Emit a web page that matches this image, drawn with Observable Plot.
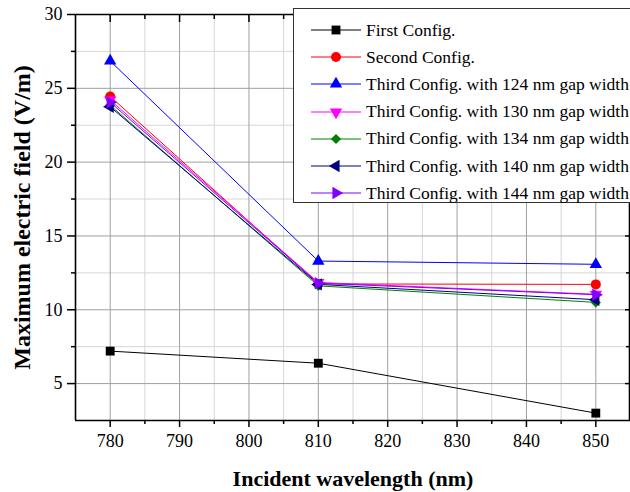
<!DOCTYPE html>
<html>
<head>
<meta charset="utf-8">
<script src="https://cdn.jsdelivr.net/npm/d3@7"></script>
<script src="https://cdn.jsdelivr.net/npm/@observablehq/plot@0.6"></script>
<style>
  html, body { margin: 0; padding: 0; background: #fff; overflow: hidden; }
  #wrap { position: relative; width: 630px; height: 492px; overflow: hidden; font-family: "Liberation Serif", "Times New Roman", serif; }
  #wrap svg text { font-family: "Liberation Serif", "Times New Roman", serif; }
  #legend { position: absolute; left: 293px; top: 8px; width: 400px; height: 195px; background: #fff; border: 1.3px solid #333; box-sizing: border-box; }
  .row { position: absolute; left: 17px; height: 20px; display: flex; align-items: center; white-space: nowrap; font-size: 17.5px; color: #000; }
  .row svg { width: 52px; height: 20px; margin-right: 3px; overflow: visible; }
</style>
</head>
<body>
<div id="wrap"></div>
<script>
// ---- data ----
const wavelengths = [780, 810, 850];
const seriesNames = [
  "First Config.",
  "Second Config.",
  "Third Config. with 124 nm gap width",
  "Third Config. with 130 nm gap width",
  "Third Config. with 134 nm gap width",
  "Third Config. with 140 nm gap width",
  "Third Config. with 144 nm gap width"
];
const firstConfig  = [7.2, 6.38, 3.0];
const secondConfig = [24.45, 11.75, 11.72];
const third124     = [26.85, 13.3, 13.08];
const third130     = [24.2, 11.85, 11.05];
const third134     = [23.85, 11.62, 10.5];
const third140     = [23.75, 11.72, 10.68];
const third144     = [24.05, 11.8, 11.02];
const seriesValues = [firstConfig, secondConfig, third124, third130, third134, third140, third144];

const xDomain = [775, 855];
const yDomain = [2.5, 30];
const xMajorTicks = [780, 790, 800, 810, 820, 830, 840, 850];
const xMinorTicks = [785, 795, 805, 815, 825, 835, 845];
const yMajorTicks = [5, 10, 15, 20, 25, 30];
const yMinorTicks = [7.5, 12.5, 17.5, 22.5, 27.5];
const xLabel = "Incident wavelength (nm)";
const yLabel = "Maximum electric field (V/m)";

// ---- styles ----
const colors = ["#000000", "#ff0000", "#0000ff", "#ff00ff", "#008000", "#000080", "#8000ff"];
const symbols = ["square", "circle", "triangle", "triangle", "diamond2", "triangle", "triangle"];
const rotations = [0, 0, 0, 180, 0, -90, 90];
const radii = [5, 5, 4.6, 4.6, 4.6, 4.6, 4.6];

const rows = [];
seriesValues.forEach((vals, s) => vals.forEach((v, i) => rows.push({series: s, x: wavelengths[i], y: v})));

const font = "'Liberation Serif', 'Times New Roman', serif";

const marks = [
  // grid
  Plot.ruleX(xMinorTicks.concat([xDomain[1]]), {stroke: "#d6d6d6", strokeWidth: 1}),
  Plot.ruleY(yMinorTicks, {stroke: "#d6d6d6", strokeWidth: 1}),
  Plot.ruleX(xMajorTicks, {stroke: "#a0a0a0", strokeWidth: 1}),
  Plot.ruleY(yMajorTicks, {stroke: "#a0a0a0", strokeWidth: 1}),
];

seriesValues.forEach((vals, s) => {
  const data = rows.filter(d => d.series === s);
  marks.push(Plot.line(data, {x: "x", y: "y", stroke: colors[s], strokeWidth: 1}));
});
seriesValues.forEach((vals, s) => {
  const data = rows.filter(d => d.series === s);
  marks.push(Plot.dot(data, {x: "x", y: "y", symbol: () => symbols[s], fill: colors[s], stroke: "none", r: radii[s], rotate: rotations[s]}));
});

const ax = {label: null, strokeWidth: 1.5, fontFamily: font};
marks.push(
  // frame
  Plot.ruleY([yDomain[0]], {stroke: "#000", strokeWidth: 1.6}),
  Plot.ruleY([yDomain[1]], {stroke: "#000", strokeWidth: 1.6}),
  Plot.ruleX([xDomain[0]], {stroke: "#000", strokeWidth: 1.6}),
  Plot.ruleX([xDomain[1]], {stroke: "#000", strokeWidth: 1.6, dx: -1}),
  // bottom axis
  Plot.axisX(xMajorTicks, {...ax, anchor: "bottom", tickSize: 7, tickPadding: 7, fontSize: 18, tickFormat: d => String(d)}),
  Plot.axisX(xMinorTicks, {...ax, anchor: "bottom", tickSize: 4, tickFormat: () => ""}),
  // top axis (inward)
  Plot.axisX(xMajorTicks, {...ax, anchor: "top", tickSize: -7, tickFormat: () => ""}),
  Plot.axisX(xMinorTicks, {...ax, anchor: "top", tickSize: -4, tickFormat: () => ""}),
  // left axis
  Plot.axisY(yMajorTicks, {...ax, anchor: "left", tickSize: 8, tickPadding: 5, fontSize: 18, tickFormat: d => String(d)}),
  Plot.axisY(yMinorTicks, {...ax, anchor: "left", tickSize: 4, tickFormat: () => ""}),
  // right axis (inward)
  Plot.axisY(yMajorTicks, {...ax, anchor: "right", tickSize: -5, tickFormat: () => "", dx: -1}),
  Plot.axisY(yMinorTicks, {...ax, anchor: "right", tickSize: -4, tickFormat: () => "", dx: -1}),
  // titles
  Plot.text([xLabel], {frameAnchor: "bottom", lineAnchor: "middle", textAnchor: "middle", dy: 58, fontSize: 22, fontWeight: "bold", fill: "#000", fontFamily: font}),
  Plot.text([yLabel], {frameAnchor: "left", lineAnchor: "middle", textAnchor: "middle", dx: -53, rotate: -90, fontSize: 24, fontWeight: "bold", fill: "#000", fontFamily: font})
);

const chart = Plot.plot({
  width: 630,
  height: 492,
  marginLeft: 75,
  marginRight: 0,
  marginTop: 14,
  marginBottom: 72,
  style: {fontFamily: font, background: "#fff", color: "#000", overflow: "visible"},
  x: {domain: xDomain, axis: null},
  y: {domain: yDomain, axis: null},
  marks
});

const wrap = document.getElementById("wrap");
wrap.appendChild(chart);

// ---- legend ----
const legend = document.createElement("div");
legend.id = "legend";
wrap.appendChild(legend);
const symMap = {square: d3.symbolSquare, circle: d3.symbolCircle, triangle: d3.symbolTriangle, diamond2: d3.symbolDiamond2};
seriesNames.forEach((name, s) => {
  const row = document.createElement("div");
  row.className = "row";
  row.style.top = (11 + s * 27.2) + "px";
  const path = d3.symbol(symMap[symbols[s]], Math.PI * radii[s] * radii[s])();
  row.innerHTML = `<svg viewBox="0 0 52 20"><line x1="0" x2="50" y1="10" y2="10" stroke="${colors[s]}" stroke-width="1.2"/>` +
    `<path d="${path}" fill="${colors[s]}" transform="translate(25,10) rotate(${rotations[s]})"/></svg><span>${name}</span>`;
  legend.appendChild(row);
});
</script>
</body>
</html>
